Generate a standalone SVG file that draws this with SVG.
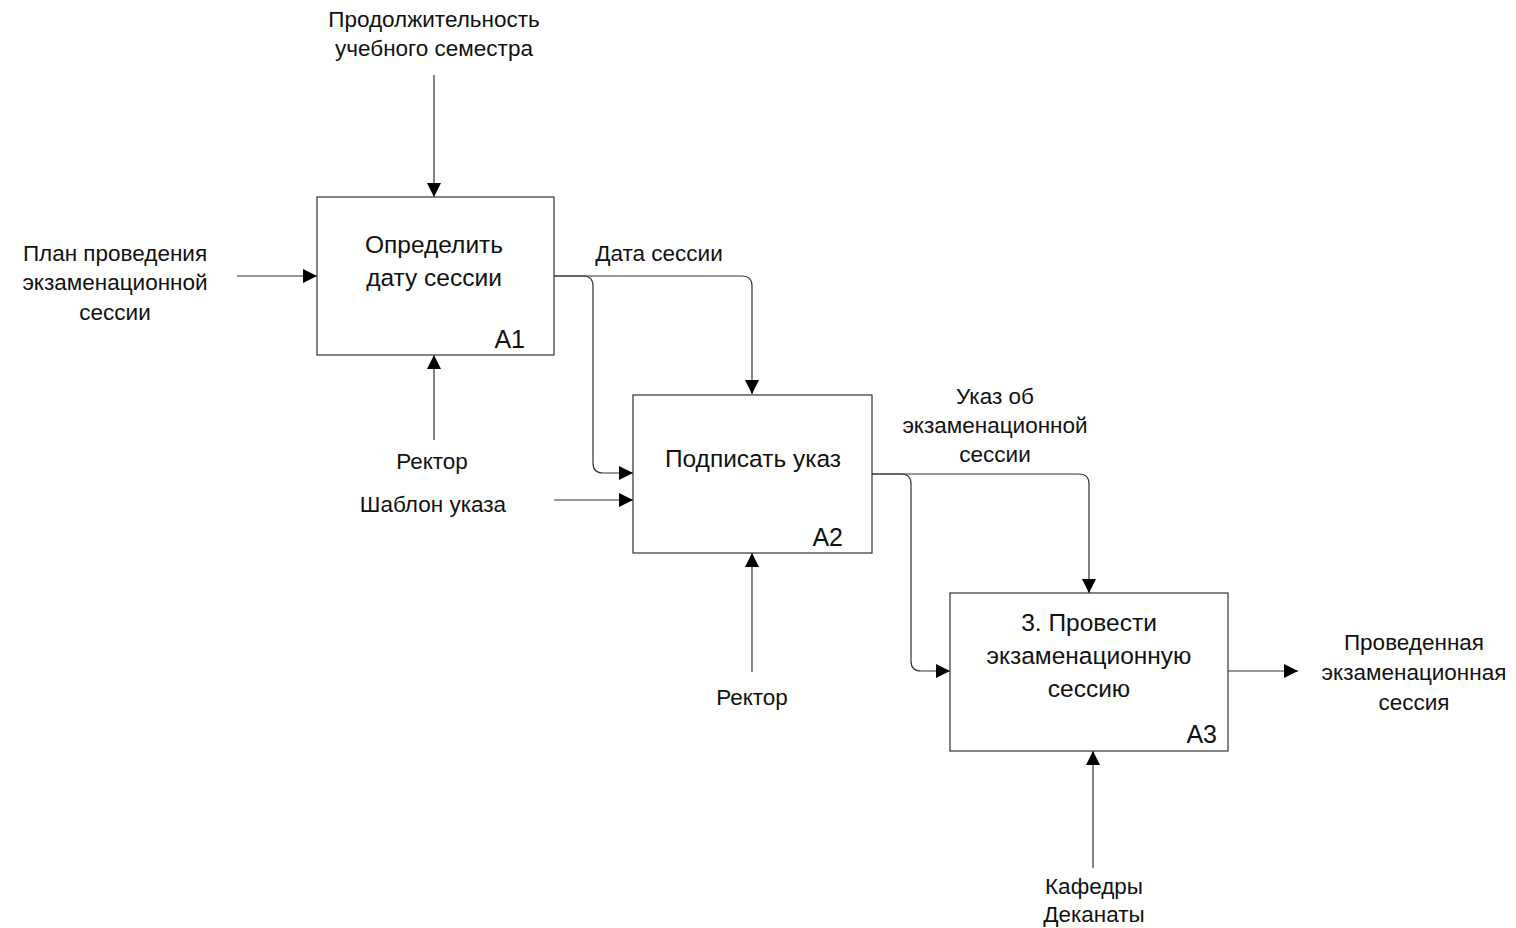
<svg xmlns="http://www.w3.org/2000/svg" width="1516" height="928" viewBox="0 0 1516 928">
<style>
.box{fill:#fff;stroke:#333;stroke-width:1.2}
.ln{fill:none;stroke:#333;stroke-width:1.2}
.t{font-family:"Liberation Sans",Arial,sans-serif;font-size:22.5px;fill:#111;text-anchor:middle}
.b{font-family:"Liberation Sans",Arial,sans-serif;font-size:24.5px;fill:#111;text-anchor:middle}
.id{font-family:"Liberation Sans",Arial,sans-serif;font-size:25px;fill:#111;text-anchor:end}
</style>
<defs>
<marker id="ah" markerWidth="14" markerHeight="14" refX="14" refY="7" orient="auto" markerUnits="userSpaceOnUse">
<path d="M0,0 L14,7 L0,14 Z" fill="#000"/>
</marker>
</defs>
<rect width="1516" height="928" fill="#fff"/>
<g id="connectors">
<path class="ln" d="M434,75 V197" marker-end="url(#ah)"/>
<path class="ln" d="M237,276 H317" marker-end="url(#ah)"/>
<path class="ln" d="M434,440 V355" marker-end="url(#ah)"/>
<path class="ln" d="M554,276 H742 Q752,276 752,286 V394" marker-end="url(#ah)"/>
<path class="ln" d="M554,276 H583 Q593,276 593,286 V463 Q593,473 603,473 H633" marker-end="url(#ah)"/>
<path class="ln" d="M554,500 H633" marker-end="url(#ah)"/>
<path class="ln" d="M872,474 H1079 Q1089,474 1089,484 V593" marker-end="url(#ah)"/>
<path class="ln" d="M872,474 H901 Q911,474 911,484 V661 Q911,671 921,671 H950" marker-end="url(#ah)"/>
<path class="ln" d="M752,672 V553" marker-end="url(#ah)"/>
<path class="ln" d="M1228,671 H1298" marker-end="url(#ah)"/>
<path class="ln" d="M1093,868 V751" marker-end="url(#ah)"/>
</g>
<g id="A1">
<rect class="box" x="317" y="197" width="237" height="158"/>
<text class="b" x="434" y="253">Определить</text>
<text class="b" x="434" y="286">дату сессии</text>
<text class="id" x="525" y="348">A1</text>
</g>
<g id="A2">
<rect class="box" x="633" y="395" width="239" height="158"/>
<text class="b" x="753" y="467">Подписать указ</text>
<text class="id" x="843" y="546">A2</text>
</g>
<g id="A3">
<rect class="box" x="950" y="593" width="278" height="158"/>
<text class="b" x="1089" y="631">3. Провести</text>
<text class="b" x="1089" y="664">экзаменационную</text>
<text class="b" x="1089" y="697">сессию</text>
<text class="id" x="1217" y="743">A3</text>
</g>
<g id="labels">
<text class="t" x="434" y="27">Продолжительность</text>
<text class="t" x="434" y="56">учебного семестра</text>
<text class="t" x="115" y="261">План проведения</text>
<text class="t" x="115" y="290">экзаменационной</text>
<text class="t" x="115" y="320">сессии</text>
<text class="t" x="659" y="261">Дата сессии</text>
<text class="t" x="432" y="469">Ректор</text>
<text class="t" x="433" y="512">Шаблон указа</text>
<text class="t" x="995" y="404">Указ об</text>
<text class="t" x="995" y="433">экзаменационной</text>
<text class="t" x="995" y="462">сессии</text>
<text class="t" x="752" y="705">Ректор</text>
<text class="t" x="1414" y="650">Проведенная</text>
<text class="t" x="1414" y="680">экзаменационная</text>
<text class="t" x="1414" y="710">сессия</text>
<text class="t" x="1094" y="894">Кафедры</text>
<text class="t" x="1094" y="922">Деканаты</text>
</g>
</svg>
